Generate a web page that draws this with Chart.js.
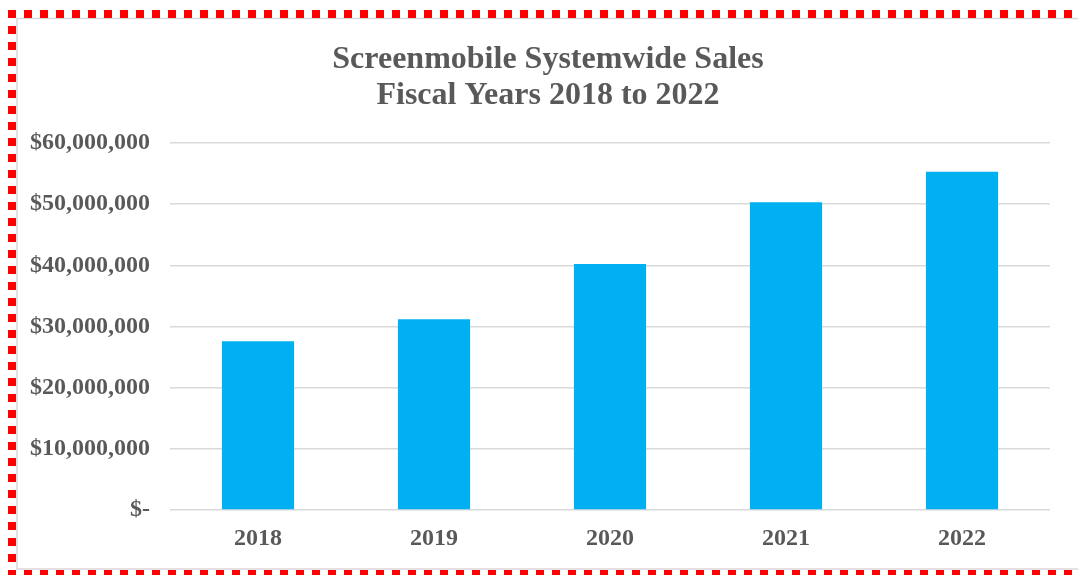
<!DOCTYPE html>
<html>
<head>
<meta charset="utf-8">
<script src="https://cdn.jsdelivr.net/npm/chart.js@4/dist/chart.umd.min.js"></script>
<style>
  html, body { margin: 0; padding: 0; background: #fff; }
  #wrap { width: 1078px; height: 575px; position: relative; }
</style>
</head>
<body>
<div id="wrap"><canvas id="graph" width="1078" height="575"></canvas></div>
<script>
const years = ["2018", "2019", "2020", "2021", "2022"]
const sales = [27600000, 31200000, 40200000, 50300000, 55300000]
const titleLines = ["Screenmobile Systemwide Sales", "Fiscal Years 2018 to 2022"]

const grey = "#595959"
const serif = "'Liberation Serif', 'Times New Roman', serif"

// red dashed frame + thin grey chart border, as in the screenshot
const framePlugin = {
    id: "frame",
    afterLayout(chart) {
        // title sits a bit right of the canvas centre in the original
        const t = chart.titleBlock
        if (t) { t.left += 23; t.right += 23 }
    },
    beforeDraw(chart) {
        const c = chart.ctx
        c.save()
        c.strokeStyle = "#d9d9d9"
        c.lineWidth = 1.5
        c.strokeRect(17, 18.5, 1078, 550.5)
        c.strokeStyle = "#ff0000"
        c.lineWidth = 8
        c.setLineDash([8, 8])
        c.beginPath()
        c.moveTo(12, 574 + 4)
        c.lineTo(12, 14)
        c.lineTo(1100, 14)
        c.stroke()
        c.beginPath()
        c.moveTo(8, 574)
        c.lineTo(1100, 574)
        c.stroke()
        c.restore()
    }
}

function money(v) {
    if (v === 0) return "$-"
    return "$" + v.toLocaleString("en-US")
}

const ctx = document.getElementById("graph").getContext("2d")
new Chart(ctx, {
    type: "bar",
    data: {
        labels: years,
        datasets: [{
            data: sales,
            backgroundColor: "#00b0f0",
            borderWidth: 0,
            barPercentage: 0.82,
            categoryPercentage: 0.5
        }]
    },
    options: {
        responsive: false,
        animation: false,
        layout: { padding: { top: 20, left: 0, right: 28, bottom: 0 } },
        plugins: {
            legend: { display: false },
            tooltip: { enabled: false },
            title: {
                display: true,
                text: titleLines,
                color: grey,
                font: { family: serif, size: 32, weight: "bold", lineHeight: 1.125 },
                padding: { top: 22, bottom: 29 }
            }
        },
        scales: {
            x: {
                grid: { display: false, drawTicks: false },
                border: { display: false },
                ticks: {
                    color: grey,
                    padding: 14,
                    font: { family: serif, size: 24, weight: "bold" }
                },
                afterFit(s) { s.height = 65 }
            },
            y: {
                min: 0,
                max: 60000000,
                grid: { color: "#d9d9d9", lineWidth: 1.5, drawTicks: false },
                border: { display: false },
                ticks: {
                    stepSize: 10000000,
                    color: grey,
                    padding: 20,
                    font: { family: serif, size: 24, weight: "bold" },
                    callback: v => money(v)
                },
                afterFit(s) { s.width = 170 }
            }
        }
    },
    plugins: [framePlugin]
})
</script>
</body>
</html>
